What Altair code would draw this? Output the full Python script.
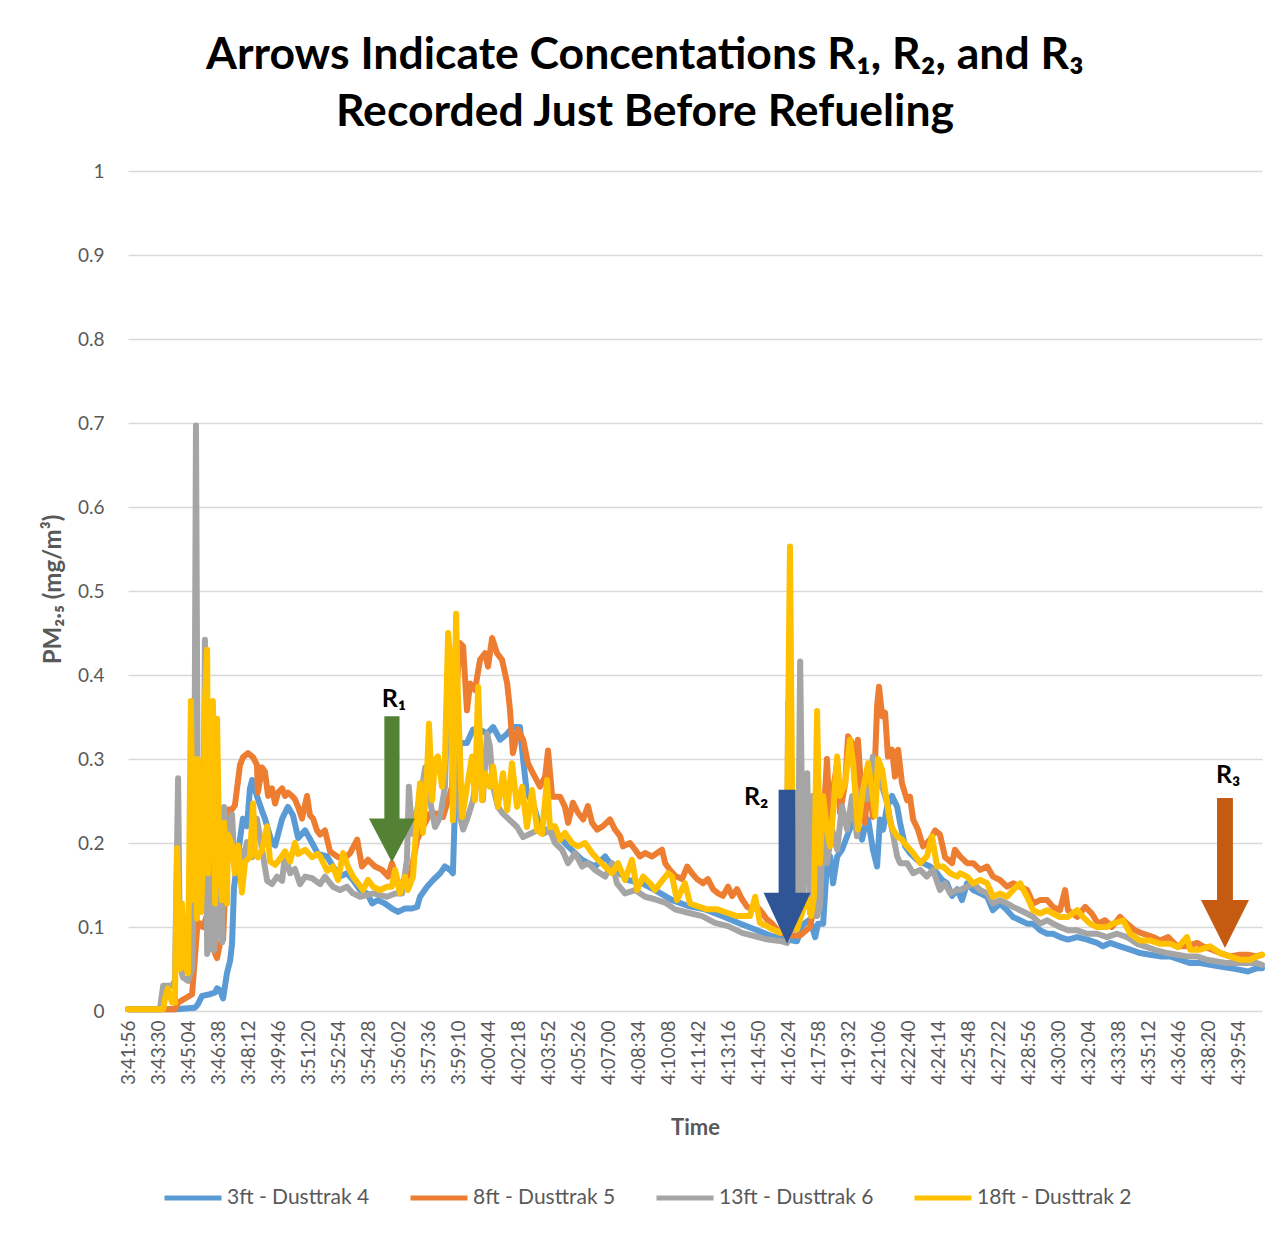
import altair as alt
import pandas as pd

# ---------------- data (elapsed seconds since 3:41:56, PM2.5 mg/m3) ----------------
SERIES = ["3ft - Dusttrak 4", "8ft - Dusttrak 5", "13ft - Dusttrak 6", "18ft - Dusttrak 2"]
COLORS = ["#5B9BD5", "#ED7D31", "#A5A5A5", "#FFC000"]

T_3FT = [0, 69, 147, 210, 219, 232, 257, 273, 279, 288, 298, 310, 320, 326, 332, 342, 351, 360, 373, 382,
         389, 404, 420, 429, 451, 461, 483, 501, 517, 533, 555, 577, 595, 624, 642, 664, 686, 705, 727, 749,
         765, 783, 805, 827, 846, 868, 890, 906, 915, 937, 956, 978, 993, 1009, 1018, 1025, 1031, 1040, 1062,
         1081, 1103, 1125, 1144, 1166, 1188, 1206, 1228, 1238, 1250, 1269, 1291, 1313, 1332, 1354, 1379, 1423,
         1463, 1495, 1526, 1567, 1611, 1651, 1705, 1755, 1808, 1861, 1911, 1965, 2018, 2065, 2096, 2115, 2137,
         2153, 2162, 2178, 2190, 2200, 2209, 2222, 2237, 2253, 2269, 2284, 2300, 2309, 2319, 2334, 2347, 2356,
         2366, 2378, 2394, 2410, 2419, 2435, 2450, 2472, 2491, 2513, 2535, 2551, 2566, 2582, 2598, 2613, 2629,
         2648, 2670, 2692, 2710, 2732, 2754, 2773, 2795, 2817, 2836, 2858, 2880, 2898, 2920, 2945, 2974, 3005,
         3036, 3055, 3077, 3108, 3140, 3171, 3202, 3234, 3265, 3296, 3328, 3359, 3390, 3422, 3453, 3484, 3509,
         3537, 3553]
V_3FT = [0.002, 0.002, 0.002, 0.004, 0.008, 0.018, 0.02, 0.022, 0.027, 0.025, 0.015, 0.045, 0.06, 0.08, 0.146,
         0.178, 0.205, 0.229, 0.22, 0.265, 0.275, 0.256, 0.238, 0.229, 0.2, 0.197, 0.229, 0.243, 0.233, 0.206,
         0.215, 0.2, 0.187, 0.184, 0.172, 0.16, 0.164, 0.156, 0.144, 0.14, 0.128, 0.132, 0.128, 0.122, 0.118,
         0.122, 0.122, 0.124, 0.136, 0.148, 0.156, 0.164, 0.172, 0.168, 0.164, 0.251, 0.243, 0.319, 0.319,
         0.335, 0.335, 0.33, 0.338, 0.323, 0.33, 0.338, 0.338, 0.299, 0.259, 0.247, 0.219, 0.215, 0.212, 0.206,
         0.196, 0.18, 0.172, 0.184, 0.168, 0.156, 0.152, 0.144, 0.132, 0.125, 0.121, 0.113, 0.105, 0.097,
         0.089, 0.085, 0.083, 0.103, 0.109, 0.088, 0.104, 0.104, 0.176, 0.184, 0.152, 0.184, 0.192, 0.208,
         0.224, 0.224, 0.204, 0.22, 0.228, 0.192, 0.172, 0.228, 0.216, 0.243, 0.256, 0.243, 0.224, 0.196,
         0.188, 0.18, 0.176, 0.172, 0.164, 0.156, 0.152, 0.137, 0.145, 0.132, 0.152, 0.144, 0.14, 0.136, 0.12,
         0.128, 0.12, 0.112, 0.108, 0.104, 0.104, 0.096, 0.092, 0.092, 0.088, 0.085, 0.088, 0.085, 0.081,
         0.077, 0.081, 0.077, 0.073, 0.069, 0.067, 0.065, 0.065, 0.061, 0.057, 0.057, 0.055, 0.053, 0.051,
         0.049, 0.047, 0.051, 0.051]

T_8FT = [0, 147, 157, 201, 204, 216, 222, 235, 251, 260, 273, 279, 288, 298, 304, 313, 326, 335, 351, 360, 376,
         392, 404, 407, 420, 429, 439, 451, 461, 470, 483, 492, 501, 514, 523, 533, 545, 561, 570, 580, 592,
         602, 617, 633, 655, 674, 696, 718, 733, 752, 774, 796, 815, 827, 843, 862, 884, 906, 924, 946, 968,
         987, 1003, 1015, 1025, 1040, 1050, 1062, 1072, 1087, 1103, 1119, 1128, 1141, 1156, 1172, 1188, 1197,
         1206, 1222, 1238, 1253, 1269, 1291, 1307, 1316, 1329, 1344, 1354, 1369, 1379, 1394, 1410, 1426, 1441,
         1454, 1470, 1488, 1510, 1526, 1542, 1551, 1573, 1589, 1604, 1620, 1642, 1658, 1673, 1683, 1698, 1714,
         1736, 1752, 1767, 1783, 1802, 1817, 1833, 1849, 1864, 1880, 1893, 1908, 1924, 1940, 1955, 1971, 1987,
         2002, 2018, 2034, 2049, 2065, 2106, 2137, 2162, 2175, 2190, 2200, 2209, 2222, 2231, 2247, 2256, 2269,
         2278, 2287, 2300, 2309, 2319, 2334, 2347, 2353, 2363, 2372, 2381, 2394, 2403, 2413, 2425, 2441, 2450,
         2460, 2475, 2491, 2503, 2513, 2529, 2544, 2560, 2582, 2591, 2607, 2629, 2648, 2670, 2692, 2710, 2732,
         2754, 2773, 2795, 2817, 2836, 2858, 2880, 2898, 2920, 2936, 2945, 2974, 2999, 3020, 3039, 3061, 3083,
         3108, 3130, 3155, 3180, 3212, 3234, 3259, 3287, 3318, 3350, 3368, 3397, 3422, 3453, 3484, 3509, 3537,
         3553]
V_8FT = [0.002, 0.002, 0.01, 0.02, 0.036, 0.095, 0.105, 0.1, 0.118, 0.1, 0.068, 0.063, 0.08, 0.085, 0.14, 0.24,
         0.24, 0.245, 0.293, 0.302, 0.307, 0.302, 0.293, 0.26, 0.29, 0.285, 0.256, 0.265, 0.247, 0.26, 0.265,
         0.256, 0.26, 0.256, 0.252, 0.243, 0.229, 0.256, 0.233, 0.229, 0.215, 0.21, 0.215, 0.19, 0.184, 0.18,
         0.188, 0.204, 0.172, 0.18, 0.172, 0.168, 0.16, 0.176, 0.156, 0.148, 0.16, 0.204, 0.219, 0.235, 0.235,
         0.231, 0.251, 0.267, 0.362, 0.438, 0.434, 0.358, 0.39, 0.382, 0.418, 0.426, 0.41, 0.444, 0.426, 0.418,
         0.39, 0.358, 0.307, 0.335, 0.323, 0.295, 0.283, 0.267, 0.279, 0.31, 0.255, 0.255, 0.255, 0.243, 0.224,
         0.248, 0.236, 0.228, 0.244, 0.224, 0.216, 0.22, 0.228, 0.216, 0.208, 0.196, 0.2, 0.192, 0.184, 0.188,
         0.184, 0.188, 0.192, 0.176, 0.168, 0.161, 0.157, 0.172, 0.164, 0.157, 0.152, 0.157, 0.145, 0.14, 0.137,
         0.148, 0.137, 0.145, 0.133, 0.124, 0.121, 0.124, 0.117, 0.109, 0.104, 0.097, 0.093, 0.09, 0.09, 0.1,
         0.15, 0.2, 0.3, 0.216, 0.263, 0.295, 0.236, 0.271, 0.327, 0.319, 0.271, 0.323, 0.248, 0.224, 0.275,
         0.231, 0.363, 0.386, 0.351, 0.355, 0.303, 0.311, 0.279, 0.311, 0.271, 0.251, 0.255, 0.228, 0.216, 0.196,
         0.2, 0.204, 0.215, 0.21, 0.183, 0.176, 0.192, 0.184, 0.176, 0.176, 0.168, 0.172, 0.16, 0.156, 0.148,
         0.152, 0.148, 0.144, 0.128, 0.132, 0.132, 0.124, 0.12, 0.144, 0.12, 0.112, 0.124, 0.116, 0.104, 0.108,
         0.1, 0.112, 0.104, 0.096, 0.092, 0.088, 0.084, 0.088, 0.077, 0.077, 0.081, 0.077, 0.073, 0.069, 0.065,
         0.067, 0.067, 0.065, 0.067]

T_13FT = [0, 100, 110, 138, 147, 157, 163, 172, 188, 201, 207, 213, 219, 229, 235, 241, 248, 257, 263, 269, 279,
          288, 295, 301, 310, 326, 335, 351, 360, 373, 389, 404, 420, 436, 451, 467, 483, 492, 508, 523, 539,
          555, 577, 602, 617, 642, 664, 686, 705, 727, 749, 768, 790, 812, 837, 859, 874, 880, 890, 899, 915,
          931, 946, 962, 978, 993, 1003, 1015, 1025, 1040, 1050, 1065, 1081, 1097, 1112, 1125, 1134, 1144, 1159,
          1175, 1197, 1219, 1238, 1260, 1282, 1300, 1322, 1338, 1360, 1379, 1401, 1423, 1441, 1463, 1495, 1517,
          1532, 1557, 1589, 1620, 1651, 1683, 1714, 1755, 1799, 1839, 1880, 1924, 1965, 2005, 2049, 2065, 2068,
          2074, 2090, 2099, 2106, 2115, 2128, 2137, 2146, 2159, 2168, 2178, 2190, 2206, 2222, 2237, 2253, 2269,
          2284, 2300, 2316, 2334, 2347, 2356, 2366, 2378, 2394, 2410, 2419, 2441, 2460, 2482, 2503, 2522, 2544,
          2560, 2576, 2598, 2607, 2629, 2648, 2670, 2692, 2710, 2732, 2754, 2773, 2795, 2817, 2836, 2858, 2880,
          2898, 2920, 2945, 2974, 3005, 3036, 3067, 3099, 3130, 3162, 3193, 3224, 3256, 3287, 3318, 3350, 3381,
          3412, 3444, 3475, 3506, 3537, 3553]
V_13FT = [0.002, 0.002, 0.03, 0.03, 0.036, 0.277, 0.054, 0.04, 0.036, 0.05, 0.165, 0.697, 0.2, 0.142, 0.142,
          0.442, 0.068, 0.082, 0.22, 0.072, 0.095, 0.164, 0.082, 0.243, 0.211, 0.234, 0.164, 0.192, 0.178, 0.201,
          0.183, 0.229, 0.192, 0.155, 0.151, 0.16, 0.155, 0.187, 0.164, 0.169, 0.151, 0.16, 0.158, 0.151, 0.16,
          0.148, 0.144, 0.148, 0.14, 0.136, 0.138, 0.14, 0.138, 0.136, 0.14, 0.14, 0.18, 0.267, 0.211, 0.231,
          0.251, 0.29, 0.251, 0.219, 0.231, 0.267, 0.382, 0.35, 0.299, 0.231, 0.216, 0.231, 0.251, 0.291, 0.251,
          0.33, 0.315, 0.267, 0.243, 0.235, 0.227, 0.219, 0.207, 0.211, 0.215, 0.211, 0.215, 0.2, 0.192, 0.176,
          0.188, 0.172, 0.176, 0.168, 0.16, 0.176, 0.152, 0.14, 0.144, 0.136, 0.133, 0.129, 0.121, 0.117, 0.113,
          0.105, 0.101, 0.093, 0.089, 0.085, 0.083, 0.081, 0.367, 0.097, 0.097, 0.136, 0.416, 0.136, 0.283, 0.117,
          0.256, 0.113, 0.125, 0.216, 0.176, 0.216, 0.192, 0.244, 0.216, 0.256, 0.208, 0.264, 0.252, 0.303,
          0.279, 0.271, 0.263, 0.248, 0.216, 0.184, 0.176, 0.176, 0.164, 0.168, 0.16, 0.168, 0.144, 0.152, 0.14,
          0.144, 0.144, 0.148, 0.152, 0.144, 0.14, 0.128, 0.132, 0.128, 0.124, 0.12, 0.116, 0.112, 0.104, 0.108,
          0.104, 0.1, 0.096, 0.096, 0.092, 0.092, 0.088, 0.092, 0.088, 0.08, 0.076, 0.072, 0.069, 0.067, 0.065,
          0.065, 0.061, 0.059, 0.057, 0.057, 0.057, 0.057, 0.055]

T_18FT = [0, 110, 116, 125, 138, 147, 154, 163, 169, 179, 188, 197, 204, 207, 216, 219, 229, 235, 241, 248, 251,
          260, 266, 273, 279, 285, 295, 301, 310, 313, 326, 335, 345, 357, 367, 382, 392, 398, 407, 420, 436,
          445, 461, 476, 492, 508, 523, 533, 555, 577, 595, 602, 624, 642, 658, 674, 689, 705, 721, 736, 752,
          768, 790, 812, 827, 837, 852, 868, 877, 893, 906, 915, 924, 937, 943, 953, 962, 971, 984, 993, 1003,
          1012, 1018, 1028, 1034, 1047, 1062, 1078, 1087, 1097, 1109, 1119, 1134, 1144, 1159, 1175, 1188, 1203,
          1219, 1235, 1250, 1266, 1282, 1297, 1313, 1322, 1338, 1354, 1369, 1391, 1410, 1432, 1454, 1473, 1495,
          1517, 1535, 1557, 1579, 1595, 1614, 1636, 1651, 1667, 1692, 1705, 1720, 1730, 1745, 1761, 1783, 1814,
          1846, 1877, 1908, 1949, 1965, 1980, 2002, 2021, 2043, 2062, 2074, 2084, 2096, 2112, 2128, 2140, 2149,
          2159, 2168, 2178, 2190, 2200, 2209, 2222, 2231, 2247, 2262, 2272, 2287, 2303, 2319, 2331, 2341, 2350,
          2363, 2372, 2388, 2397, 2410, 2425, 2441, 2460, 2482, 2503, 2519, 2535, 2554, 2576, 2598, 2607, 2629,
          2648, 2670, 2692, 2710, 2732, 2754, 2773, 2795, 2817, 2836, 2858, 2880, 2898, 2920, 2945, 2974, 2992,
          3014, 3036, 3067, 3086, 3118, 3140, 3171, 3202, 3234, 3265, 3290, 3318, 3328, 3359, 3390, 3422, 3453,
          3484, 3516, 3537, 3553]
V_18FT = [0.002, 0.002, 0.015, 0.027, 0.01, 0.01, 0.194, 0.05, 0.128, 0.054, 0.045, 0.369, 0.132, 0.3, 0.11, 0.3,
          0.118, 0.178, 0.367, 0.43, 0.164, 0.256, 0.369, 0.128, 0.348, 0.21, 0.132, 0.224, 0.128, 0.21, 0.197,
          0.164, 0.197, 0.141, 0.178, 0.183, 0.247, 0.187, 0.183, 0.192, 0.22, 0.178, 0.174, 0.181, 0.19, 0.178,
          0.2, 0.187, 0.192, 0.183, 0.187, 0.184, 0.167, 0.172, 0.156, 0.188, 0.172, 0.16, 0.152, 0.144, 0.156,
          0.148, 0.144, 0.148, 0.148, 0.168, 0.14, 0.16, 0.144, 0.16, 0.235, 0.271, 0.212, 0.283, 0.342, 0.251,
          0.299, 0.303, 0.267, 0.299, 0.45, 0.41, 0.227, 0.473, 0.37, 0.231, 0.267, 0.303, 0.251, 0.386, 0.251,
          0.283, 0.267, 0.291, 0.243, 0.283, 0.239, 0.295, 0.243, 0.267, 0.219, 0.263, 0.215, 0.211, 0.275,
          0.219, 0.22, 0.204, 0.212, 0.2, 0.196, 0.2, 0.188, 0.18, 0.172, 0.164, 0.176, 0.156, 0.18, 0.144, 0.16,
          0.152, 0.144, 0.152, 0.164, 0.16, 0.132, 0.14, 0.152, 0.128, 0.125, 0.121, 0.121, 0.117, 0.113, 0.113,
          0.136, 0.105, 0.101, 0.097, 0.093, 0.113, 0.553, 0.117, 0.097, 0.117, 0.136, 0.113, 0.136, 0.357,
          0.176, 0.256, 0.216, 0.196, 0.236, 0.303, 0.256, 0.271, 0.323, 0.295, 0.216, 0.263, 0.295, 0.263,
          0.232, 0.3, 0.287, 0.263, 0.224, 0.216, 0.208, 0.204, 0.196, 0.188, 0.176, 0.184, 0.208, 0.172, 0.172,
          0.164, 0.16, 0.164, 0.16, 0.152, 0.156, 0.152, 0.136, 0.14, 0.136, 0.144, 0.152, 0.136, 0.12, 0.116,
          0.12, 0.116, 0.112, 0.112, 0.12, 0.112, 0.104, 0.1, 0.1, 0.104, 0.108, 0.092, 0.084, 0.084, 0.08, 0.08,
          0.076, 0.088, 0.073, 0.073, 0.077, 0.069, 0.065, 0.061, 0.061, 0.065, 0.067]

TICK_SECONDS = [i * 94 for i in range(38)]
TICK_LABELS = ["3:41:56", "3:43:30", "3:45:04", "3:46:38", "3:48:12", "3:49:46", "3:51:20", "3:52:54",
               "3:54:28", "3:56:02", "3:57:36", "3:59:10", "4:00:44", "4:02:18", "4:03:52", "4:05:26",
               "4:07:00", "4:08:34", "4:10:08", "4:11:42", "4:13:16", "4:14:50", "4:16:24", "4:17:58",
               "4:19:32", "4:21:06", "4:22:40", "4:24:14", "4:25:48", "4:27:22", "4:28:56", "4:30:30",
               "4:32:04", "4:33:38", "4:35:12", "4:36:46", "4:38:20", "4:39:54"]
Y_TICKS = [0, 0.1, 0.2, 0.3, 0.4, 0.5, 0.6, 0.7, 0.8, 0.9, 1]

# arrows: tip positions and label positions
ARROW_LABELS = ["R\u2081", "R\u2082", "R\u2083"]
ARROW_TIP_T = [827, 2065, 3437]
ARROW_TIP_V = [0.177, 0.080, 0.075]
LABEL_T = [833, 1968, 3447]
LABEL_V = [0.362, 0.245, 0.271]
ARROW_COLORS = ["#548235", "#2F5597", "#C55A11"]
ARROW_SHAPES = [
    "M-0.33,-6.35L0.33,-6.35L0.33,-1.91L1,-1.91L0,0L-1,-1.91L-0.33,-1.91Z",
    "M-0.36,-6.55L0.36,-6.55L0.36,-2.17L1,-2.17L0,0L-1,-2.17L-0.36,-2.17Z",
    "M-0.33,-6.25L0.33,-6.25L0.33,-2L1,-2L0,0L-1,-2L-0.33,-2Z",
]
ARROW_SIZES = [2116, 2209, 2304]

# ---------------- build table ----------------
rows = []
for name, ts, vs in zip(SERIES, [T_3FT, T_8FT, T_13FT, T_18FT], [V_3FT, V_8FT, V_13FT, V_18FT]):
    for t, v in zip(ts, vs):
        rows.append({"series": name, "t": t, "v": v})
df = pd.DataFrame(rows)

FONT = "Lato"
GRAY_TXT = "#595959"

label_expr = "[" + ",".join("'" + s + "'" for s in TICK_LABELS) + "][round(datum.value / 94)]"

x_scale = alt.Scale(domain=[0, 3553], nice=False, zero=False)
y_scale = alt.Scale(domain=[0, 1], nice=False)

x_enc = alt.X("t:Q", scale=x_scale,
              axis=alt.Axis(values=TICK_SECONDS, labelExpr=label_expr, labelAngle=270,
                            labelFontSize=19, labelColor=GRAY_TXT, labelFont=FONT, labelPadding=9,
                            labelOverlap=False, labelFlush=False, labelSeparation=0,
                            ticks=False, domain=False, grid=False,
                            title="Time", titleFontSize=22, titleFont=FONT, titleFontWeight="bold",
                            titleColor=GRAY_TXT, titleY=123, titleBaseline="alphabetic"))
y_enc = alt.Y("v:Q", scale=y_scale,
              axis=alt.Axis(values=Y_TICKS, format=".1~f", labelFontSize=19, labelColor=GRAY_TXT,
                            labelFont=FONT, labelPadding=24, ticks=False, domain=False, grid=True,
                            gridColor="#D9D9D9", gridWidth=1.3,
                            title="PM\u2082.\u2085 (mg/m\u00b3)", titleFontSize=24, titleFont=FONT,
                            titleFontWeight="bold", titleColor=GRAY_TXT, titleAngle=270,
                            titleAlign="center", titleBaseline="alphabetic", titleX=-68, titleY=418))
color_enc = alt.Color("series:N",
                      scale=alt.Scale(domain=SERIES, range=COLORS),
                      legend=alt.Legend(title=None, orient="none", legendX=34, legendY=996,
                                        direction="horizontal", symbolType="stroke", symbolSize=3249,
                                        symbolStrokeWidth=5, labelFontSize=21, labelFont=FONT,
                                        labelColor=GRAY_TXT, columnPadding=30, labelOffset=3,
                                        padding=0, labelLimit=400))

layers = []
for name in SERIES:
    layers.append(
        alt.Chart(df).transform_filter(alt.datum.series == name)
        .mark_line(strokeWidth=6, strokeJoin="round", strokeCap="round")
        .encode(x=x_enc, y=y_enc, color=color_enc)
    )

for i in range(3):
    adf = pd.DataFrame({"t": [ARROW_TIP_T[i]], "v": [ARROW_TIP_V[i]]})
    layers.append(
        alt.Chart(adf).mark_point(shape=ARROW_SHAPES[i], size=ARROW_SIZES[i], filled=True,
                                  color=ARROW_COLORS[i], opacity=1, strokeWidth=0)
        .encode(x=x_enc, y=y_enc)
    )

ldf = pd.DataFrame({"t": LABEL_T, "v": LABEL_V, "label": ARROW_LABELS})
layers.append(
    alt.Chart(ldf).mark_text(font=FONT, fontSize=25, fontWeight="bold", color="black",
                             align="center", baseline="alphabetic")
    .encode(x=x_enc, y=y_enc, text="label:N")
)

chart = alt.layer(*layers).properties(
    width=1134, height=840,
    background="white",
    padding={"left": 120, "top": 163, "right": 10, "bottom": 210},
    autosize=alt.AutoSizeParams(type="none"),
    title=alt.TitleParams(
        text=["Arrows Indicate Concentations R\u2081, R\u2082, and R\u2083", "Recorded Just Before Refueling"],
        font=FONT, fontSize=44.5, fontWeight="bold", color="black", anchor="middle", dx=-50, dy=53,
        lineHeight=57, baseline="bottom", offset=36),
).configure_axis(labelOverlap=False).configure_view(stroke="transparent")

chart.save("out.html", embed_options={"renderer": "svg", "actions": False})
